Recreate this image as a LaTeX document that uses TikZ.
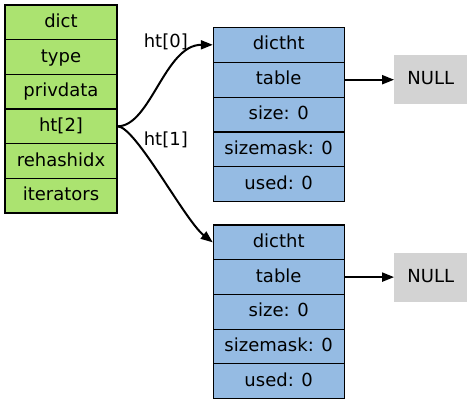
\documentclass[tikz,border=0pt]{standalone}
\usepackage{fontspec}
\setmainfont{DejaVu Sans}
\usetikzlibrary{arrows.meta,calc}
\definecolor{dictgreen}{HTML}{ABE370}
\definecolor{htblue}{HTML}{95BBE3}
\definecolor{nullgray}{HTML}{D3D3D3}
\tikzset{
  cell/.style={draw=black, line width=1.1bp, rectangle, inner sep=0pt, text height=13bp, text depth=3bp},
  dictcell/.style={cell, fill=dictgreen, minimum width=112bp, minimum height=34.67bp},
  htcell/.style={cell, fill=htblue, minimum width=130.7bp, minimum height=34.8bp},
  nullbox/.style={rectangle, fill=nullgray, inner sep=0pt, minimum width=73bp, minimum height=49bp, text height=13bp, text depth=3bp},
  lbl/.style={inner sep=0pt, anchor=base},
  link/.style={line width=2bp, -{Triangle[length=12bp,width=9bp]}}
}
\begin{document}
\begin{tikzpicture}[x=1bp,y=-1bp,every node/.style={font=\fontsize{18bp}{22bp}\selectfont}]
\useasboundingbox (0,0) rectangle (472,404);
% dict
\node[dictcell] (d1) at (61,22.3) {dict};
\node[dictcell] (d2) at (61,57) {type};
\node[dictcell] (d3) at (61,91.7) {privdata};
\node[dictcell] (d4) at (61,126.3) {ht[2]};
\node[dictcell] (d5) at (61,161) {rehashidx};
\node[dictcell] (d6) at (61,195.7) {iterators};
% dictht 0
\node[htcell] (a1) at (278.7,44.8) {dictht};
\node[htcell] (a2) at (278.7,79.7) {table};
\node[htcell] (a3) at (278.7,114.6) {size: 0};
\node[htcell] (a4) at (278.7,149.5) {sizemask: 0};
\node[htcell] (a5) at (278.7,184.3) {used: 0};
% dictht 1
\node[htcell] (b1) at (278.7,242.4) {dictht};
\node[htcell] (b2) at (278.7,277.1) {table};
\node[htcell] (b3) at (278.7,311.8) {size: 0};
\node[htcell] (b4) at (278.7,346.6) {sizemask: 0};
\node[htcell] (b5) at (278.7,381.3) {used: 0};
% NULL
\node[nullbox] (n1) at (430.8,79.7) {NULL};
\node[nullbox] (n2) at (430.8,277.1) {NULL};
% labels
\node[lbl] (l0) at (165.8,47.3) {ht[0]};
\node[lbl] (l1) at (165.8,145.7) {ht[1]};
% connectors
\draw[link] (d4.east) .. controls ($(d4.east)+(33,0)$) and ($(a1.west)+(-48,0)$) .. (a1.west);
\draw[link] (d4.east) .. controls ($(d4.east)+(18,0)$) and ($(b1.west)+(-28,-22)$) .. (b1.west);
\draw[link] (a2.east) -- (n1.west);
\draw[link] (b2.east) -- (n2.west);
\end{tikzpicture}
\end{document}
